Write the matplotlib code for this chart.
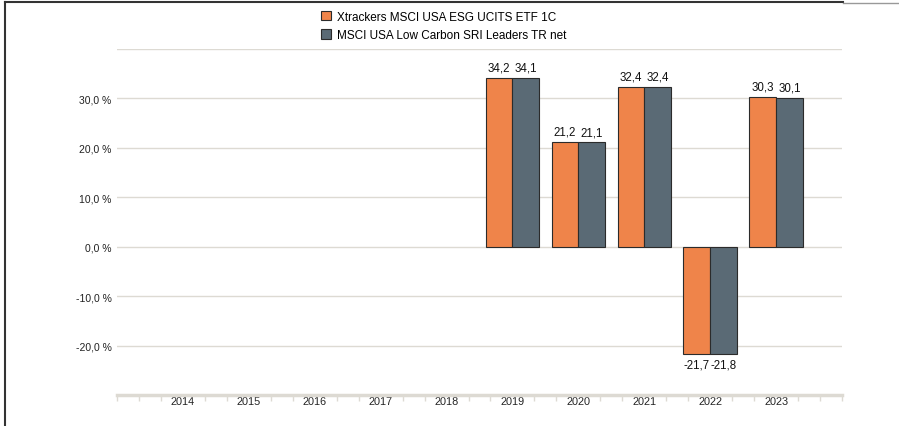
import numpy as np
import matplotlib
matplotlib.use("Agg")
import matplotlib.pyplot as plt
from matplotlib.lines import Line2D
from matplotlib.patches import Patch

plt.rcParams['font.family'] = ['Liberation Sans', 'DejaVu Sans']

years = ["2014", "2015", "2016", "2017", "2018", "2019", "2020", "2021", "2022", "2023"]
fund = [np.nan, np.nan, np.nan, np.nan, np.nan, 34.2, 21.2, 32.4, -21.7, 30.3]
index = [np.nan, np.nan, np.nan, np.nan, np.nan, 34.1, 21.1, 32.4, -21.8, 30.1]
fund_name = "Xtrackers MSCI USA ESG UCITS ETF 1C"
index_name = "MSCI USA Low Carbon SRI Leaders TR net"

orange = "#ef844a"
slate = "#5a6a75"
grid_c = "#dddad3"

fig = plt.figure(figsize=(8.99, 4.27), dpi=100)
ax = fig.add_axes([117 / 899, 1 - 396 / 427, 725 / 899, 346 / 427])

x = np.arange(len(years))
w = 0.405
b1 = ax.bar(x - w / 2, fund, w, color=orange, edgecolor="#2b2b2b", linewidth=0.8, zorder=3)
b2 = ax.bar(x + w / 2, index, w, color=slate, edgecolor="#2b2b2b", linewidth=0.8, zorder=3)

for bars, vals in ((b1, fund), (b2, index)):
    for rect, v in zip(bars, vals):
        if np.isnan(v):
            continue
        cx = rect.get_x() + rect.get_width() / 2
        lbl = f"{v:.1f}".replace(".", ",")
        if v >= 0:
            ax.annotate(lbl, (cx, v), xytext=(0, 3), textcoords="offset points",
                        ha="center", va="bottom", fontsize=8.3, color="#111111")
        else:
            ax.annotate(lbl, (cx, v), xytext=(0, -3), textcoords="offset points",
                        ha="center", va="top", fontsize=8.3, color="#111111")

ax.set_xlim(-1, len(years))
ax.set_ylim(-30, 40)
ax.set_yticks([-20, -10, 0, 10, 20, 30, 40])
ax.set_yticklabels(["-20,0 %", "-10,0 %", "0,0 %", "10,0 %", "20,0 %", "30,0 %", ""])
ax.yaxis.grid(True, color=grid_c, linewidth=1.0, zorder=0)
ax.tick_params(axis="y", length=0, pad=4, labelsize=7.5, labelcolor="#222222")

ax.set_xticks(x)
ax.set_xticklabels(years)
ax.tick_params(axis="x", length=0, pad=0.5, labelsize=7.8, labelcolor="#222222")
minor = np.concatenate([np.arange(-1, len(years) + 1) - 1 / 3, np.arange(-1, len(years) + 1) + 1 / 3])
minor = minor[(minor >= -1) & (minor <= len(years))]
ax.set_xticks(np.append(minor, [-1, len(years)]), minor=True)
ax.tick_params(axis="x", which="minor", length=4, width=1, color=grid_c)

for s in ("top", "left", "right"):
    ax.spines[s].set_visible(False)
ax.spines["bottom"].set_color(grid_c)
ax.spines["bottom"].set_linewidth(2.5)
ax.spines["bottom"].set_zorder(4)

handles = [Patch(facecolor=orange, edgecolor="#2b2b2b", linewidth=0.8),
           Patch(facecolor=slate, edgecolor="#2b2b2b", linewidth=0.8)]
fig.legend(handles, [fund_name, index_name], loc="upper left",
           bbox_to_anchor=(310 / 899, 1 - 1 / 427), frameon=False, fontsize=8.5,
           handlelength=0.9, handleheight=0.9, handletextpad=0.5, labelspacing=0.55)

# frame lines at the top and left of the image
fig.add_artist(Line2D([5 / 899, 5 / 899], [0, 1 - 3 / 427], color="#333333", linewidth=1.5))
fig.add_artist(Line2D([5 / 899, 843 / 899], [1 - 3 / 427, 1 - 3 / 427], color="#333333", linewidth=1.5))
fig.add_artist(Line2D([843 / 899, 1], [1 - 4 / 427, 1 - 4 / 427], color="#999999", linewidth=1.0))

fig.savefig("out.png", dpi=100, facecolor="white")
